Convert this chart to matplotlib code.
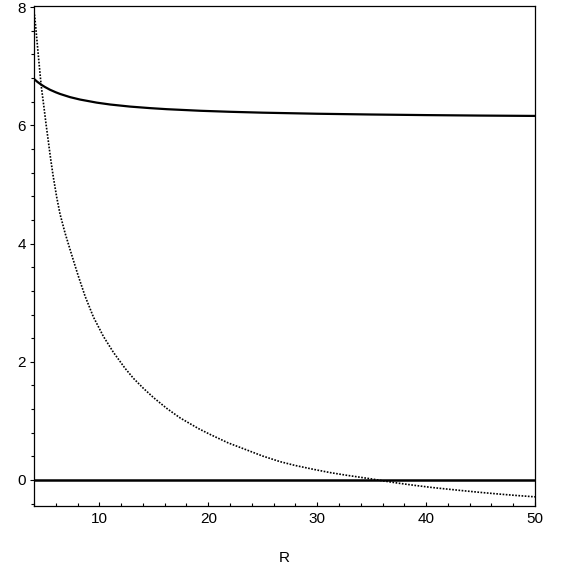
import matplotlib
matplotlib.use("Agg")
import matplotlib.pyplot as plt
from matplotlib.ticker import MultipleLocator

# values
r_upper = [4.0, 4.3, 4.64, 5.0, 5.47, 6.0, 6.39, 7.31, 8.23, 9.76, 11.0, 12.82, 14.66,
           16.2, 19.3, 22.0, 25.0, 30.0, 35.0, 40.0, 45.0, 50.0]
f_upper = [6.786, 6.738, 6.692, 6.650, 6.603, 6.560, 6.532, 6.478, 6.437, 6.385, 6.353,
           6.318, 6.292, 6.274, 6.247, 6.230, 6.215, 6.197, 6.184, 6.174, 6.166, 6.160]

r_dotted = [4.0, 4.09, 4.3, 4.49, 4.64, 4.71, 4.92, 5.1, 5.31, 5.53, 5.77, 6.09, 6.39,
            6.85, 7.31, 7.61, 8.07, 8.69, 9.45, 10.37, 11.29, 12.36, 13.13, 14.05, 15.0,
            16.2, 17.42, 19.1, 20.18, 21.8, 23.55, 25.0, 26.6, 28.0, 29.67, 31.2, 32.7,
            34.0, 35.1, 35.9, 37.5, 39.0, 40.55, 42.0, 43.6, 45.0, 46.7, 48.3, 50.0]
f_dotted = [7.93, 7.80, 7.38, 7.00, 6.71, 6.60, 6.30, 6.03, 5.74, 5.43, 5.13, 4.78, 4.50,
            4.18, 3.90, 3.72, 3.45, 3.11, 2.76, 2.43, 2.16, 1.89, 1.72, 1.55, 1.39,
            1.21, 1.05, 0.87, 0.77, 0.63, 0.507, 0.405, 0.31, 0.245, 0.18, 0.125, 0.08,
            0.045, 0.015, -0.01, -0.055, -0.092, -0.127, -0.155, -0.185, -0.21, -0.238, -0.262, -0.285]

r_zero = [4.0, 50.0]
f_zero = [0.0, 0.0]


def main():
    plt.rcParams["font.family"] = ["Liberation Sans", "DejaVu Sans"]
    fig = plt.figure(figsize=(5.65, 5.65), dpi=100)
    ax = fig.add_axes([34 / 565, 1 - 506 / 565, 501 / 565, 500 / 565])

    ax.plot(r_upper, f_upper, color="black", lw=1.6)
    ax.plot(r_zero, f_zero, color="black", lw=1.8)
    ax.plot(r_dotted, f_dotted, color="black", lw=1.2, linestyle=(0, (1, 0.9)))

    ax.set_xlim(4, 50)
    ax.set_ylim(-0.44, 8.02)

    ax.xaxis.set_major_locator(MultipleLocator(10))
    ax.xaxis.set_minor_locator(MultipleLocator(2))
    ax.yaxis.set_major_locator(MultipleLocator(2))
    ax.yaxis.set_minor_locator(MultipleLocator(0.4))
    ax.tick_params(axis="x", which="major", direction="in", length=3, width=0.8,
                   labelsize=11, pad=4)
    ax.tick_params(axis="x", which="minor", direction="in", length=2, width=0.8)
    ax.tick_params(axis="y", which="major", direction="out", length=3, width=0.8,
                   labelsize=11, pad=3)
    ax.tick_params(axis="y", which="minor", direction="out", length=2, width=0.8)
    for s in ax.spines.values():
        s.set_linewidth(0.9)

    ax.set_xlabel("R", fontsize=11, labelpad=18)

    fig.savefig("out.png", dpi=100)
    plt.close(fig)


if __name__ == "__main__":
    main()
